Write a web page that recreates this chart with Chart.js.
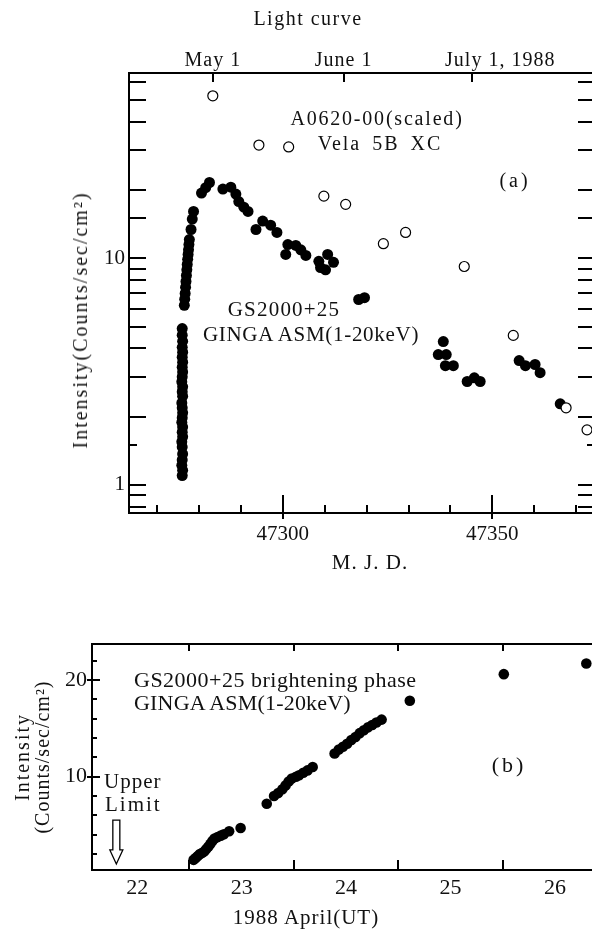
<!DOCTYPE html>
<html><head><meta charset="utf-8">
<script src="https://cdn.jsdelivr.net/npm/chart.js@4.4.0/dist/chart.umd.min.js"></script>
<style>
html,body{margin:0;padding:0;background:#fff;}
#wrap{position:relative;width:592px;height:934px;overflow:hidden;background:#fff;}
canvas{position:absolute;left:0;}
.t{position:absolute;font-family:"Liberation Serif","Times New Roman",serif;color:#111;white-space:nowrap;line-height:1;}
.c{transform:translateX(-50%);}
.rot{transform:translate(-50%,-50%) rotate(-90deg);}
</style></head><body>
<div id="wrap">
<canvas id="ca" width="620" height="580" style="top:0;width:620px;height:580px"></canvas>
<canvas id="cb" width="620" height="334" style="top:600px;width:620px;height:334px"></canvas>

<div class="t c" style="left:308px;top:8px;font-size:20px;letter-spacing:1.5px;">Light curve</div>
<div class="t c" style="left:377px;top:108px;font-size:20px;letter-spacing:1.8px;">A0620-00(scaled)</div>
<div class="t c" style="left:380px;top:133px;font-size:20px;letter-spacing:2px;word-spacing:4px;">Vela 5B XC</div>
<div class="t c" style="left:515px;top:170px;font-size:20px;letter-spacing:3px;">(a)</div>
<div class="t c" style="left:284px;top:299px;font-size:21px;letter-spacing:1.2px;">GS2000+25</div>
<div class="t c" style="left:311px;top:324px;font-size:21px;letter-spacing:0.7px;">GINGA ASM(1-20keV)</div>
<div class="t c" style="left:370px;top:552px;font-size:21px;letter-spacing:1px;">M. J. D.</div>
<div class="t rot" style="left:80px;top:320px;font-size:20px;letter-spacing:2px;">Intensity(Counts/sec/cm²)</div>

<div class="t" style="left:134px;top:669px;font-size:22px;letter-spacing:0.5px;">GS2000+25 brightening phase</div>
<div class="t" style="left:134px;top:692px;font-size:22px;letter-spacing:0.2px;">GINGA ASM(1-20keV)</div>
<div class="t c" style="left:509px;top:754px;font-size:22px;letter-spacing:3px;">(b)</div>
<div class="t" style="left:104px;top:771px;font-size:21px;letter-spacing:1px;">Upper</div>
<div class="t" style="left:105px;top:794px;font-size:21px;letter-spacing:2px;">Limit</div>
<div class="t c" style="left:306px;top:907px;font-size:21px;letter-spacing:1px;">1988 April(UT)</div>
<div class="t rot" style="left:22px;top:757px;font-size:20px;letter-spacing:2px;">Intensity</div>
<div class="t rot" style="left:42px;top:757px;font-size:20px;letter-spacing:1px;">(Counts/sec/cm²)</div>
</div>

<script>
// ===== Panel (a): light curve =====
const gingaMJD = [
 47276.0,47276.1,47275.9,47276.0,47276.1,47276.0,47275.9,47276.1,47276.0,47276.1,
 47275.9,47276.0,47276.1,47276.0,47275.9,47276.1,47276.0,47276.1,47275.9,47276.0,
 47276.1,47276.0,47276.1,47276.0,47276.1,47276.0,47276.1,47276.0,47276.0,
 47276.5,47276.6,47276.7,47276.8,47276.9,47277.0,47277.1,47277.2,47277.3,47277.4,47277.5,47277.6,47277.7,
 47278.1,47278.4,47278.7,
 47280.6,47281.6,47282.5,47285.7,47287.6,47288.8,47289.5,47290.7,47291.7,
 47293.6,47295.2,47297.1,47298.6,47300.7,47301.2,47303.1,47304.3,47305.5,
 47308.6,47309.0,47310.2,47310.7,47312.1,47318.1,47319.5,
 47337.1,47338.3,47338.8,47339.0,47340.7,47344.0,47345.7,47347.1,
 47356.4,47357.9,47360.2,47361.4,47366.2
];
const gingaFlux = [
 1.10,1.16,1.22,1.29,1.37,1.47,1.55,1.63,1.71,1.80,
 1.89,1.98,2.08,2.19,2.30,2.46,2.58,2.71,2.85,3.00,
 3.15,3.31,3.48,3.66,3.85,4.05,4.30,4.58,4.90,
 6.20,6.60,7.00,7.45,7.90,8.40,8.90,9.40,9.90,10.4,10.9,11.5,12.1,
 13.4,14.9,16.1,
 19.4,20.5,21.6,20.2,20.6,19.2,17.8,16.8,16.1,
 13.4,14.6,14.0,13.0,10.4,11.5,11.4,10.9,10.3,
 9.7,9.1,8.9,10.4,9.6,6.58,6.70,
 3.76,4.29,3.36,3.76,3.36,2.86,2.97,2.86,
 3.54,3.36,3.40,3.13,2.28
];
const velaMJD  = [47283.3,47294.3,47301.4,47309.8,47315.0,47324.0,47329.3,47343.3,47355.0,47367.6,47372.6];
const velaFlux = [52.1,31.6,31.0,18.8,17.3,11.6,13.0,9.2,4.57,2.19,1.75];
const mjdTickLabels  = [47300,47350];
const mjdMinorTicks  = [47270,47280,47290,47310,47320,47330,47340,47360,47370];
const fluxTickLabels = [1,10];
const fluxMinorTicks = [0.8,0.9,1,1.5,2,3,4,5,6,7,8,9,10,15,20,30,40,50,60];
const monthLabels = ['May 1','June 1','July 1, 1988'];
const monthAnchor = ['May 1','June 1','July 1'];
const monthMJD    = [47283.3,47314.5,47345.2];

// ===== Panel (b): brightening phase =====
const dayB = [
 22.54,22.56,22.58,22.60,22.62,22.64,22.66,22.68,22.70,22.72,22.74,22.77,22.80,22.83,22.88,22.99,
 23.24,23.31,23.35,23.39,23.42,23.45,23.48,23.52,23.55,23.59,23.63,23.68,
 23.89,23.93,23.97,24.01,24.05,24.09,24.13,24.17,24.21,24.25,24.29,24.34,
 24.61,25.51,26.30
];
const fluxB = [
 1.4,1.6,1.8,2.0,2.1,2.25,2.5,2.75,3.05,3.35,3.6,3.75,3.9,4.05,4.35,4.7,
 7.2,8.0,8.3,8.7,9.1,9.5,9.8,10.0,10.15,10.4,10.65,11.0,
 12.4,12.8,13.1,13.4,13.8,14.1,14.5,14.8,15.1,15.35,15.6,15.9,
 17.85,20.6,21.7
];
const dayTickLabels   = [22,23,24,25,26];
const dayMinorTicks   = [22.5,23.5,24.5,25.5];
const fluxBTickLabels = [10,20];
const fluxBMinorTicks = [2,4,6,8,12,14,16,18,22];
const upperLimitDay = 21.8, upperLimitTop = 5.5, upperLimitTip = 0.98;

const serif = '"Liberation Serif","Times New Roman",serif';
const ink = '#111';
function axisBase(){ return {grid:{display:true,drawOnChartArea:false,drawTicks:false}, border:{display:true,color:'#000',width:2}}; }

const ticksA = {
  id:'ticksA',
  afterDraw(chart){
    const {ctx, chartArea:{left,right,top,bottom}} = chart;
    const x = chart.scales.x, y = chart.scales.y;
    ctx.save();
    ctx.strokeStyle = '#000'; ctx.lineWidth = 2;
    ctx.beginPath();
    fluxMinorTicks.forEach(v=>{
      const py = Math.round(y.getPixelForValue(v));
      const len = v===1.5 ? 8 : 17;
      ctx.moveTo(left,py); ctx.lineTo(left+len,py);
      ctx.moveTo(right,py); ctx.lineTo(right-len,py);
    });
    mjdMinorTicks.forEach(v=>{ const px=Math.round(x.getPixelForValue(v)); ctx.moveTo(px,bottom); ctx.lineTo(px,bottom-8); });
    mjdTickLabels.forEach(v=>{ const px=Math.round(x.getPixelForValue(v)); ctx.moveTo(px,bottom+6); ctx.lineTo(px,bottom-18); });
    monthMJD.forEach(v=>{ const px=Math.round(x.getPixelForValue(v)); ctx.moveTo(px,top); ctx.lineTo(px,top+9); });
    ctx.stroke();
    ctx.fillStyle = ink; ctx.font = '20px '+serif; ctx.textBaseline='alphabetic'; ctx.textAlign='left';
    if ('letterSpacing' in ctx) ctx.letterSpacing = '1px';
    monthLabels.forEach((lab,i)=>{
      const px = x.getPixelForValue(monthMJD[i]);
      const w = ctx.measureText(monthAnchor[i]).width;
      ctx.fillText(lab, px - w/2, top-7);
    });
    ctx.restore();
  }
};

new Chart(document.getElementById('ca'), {
  type:'scatter',
  data:{datasets:[
    {label:'GS2000+25 GINGA ASM(1-20keV)', data:gingaMJD.map((v,i)=>({x:v,y:gingaFlux[i]})),
     pointRadius:5.5, pointBackgroundColor:'#000', pointBorderColor:'#000', pointBorderWidth:0, order:2},
    {label:'A0620-00(scaled) Vela 5B XC', data:velaMJD.map((v,i)=>({x:v,y:velaFlux[i]})),
     pointRadius:5, pointBackgroundColor:'#fff', pointBorderColor:'#000', pointBorderWidth:1.2, order:1}
  ]},
  options:{
    responsive:false, animation:false, devicePixelRatio:1,
    layout:{padding:0},
    plugins:{legend:{display:false}, tooltip:{enabled:false}},
    scales:{
      x:Object.assign(axisBase(),{type:'linear',position:'bottom',min:47263.3,max:47374.5,
        afterBuildTicks:s=>{s.ticks = mjdTickLabels.map(v=>({value:v}));},
        ticks:{font:{family:serif,size:21},color:ink,padding:9,maxRotation:0,autoSkip:false,callback:v=>String(v)},
        afterFit:s=>{s.height=67;s.paddingLeft=0;s.paddingRight=0;}}),
      x2:Object.assign(axisBase(),{type:'linear',position:'top',min:47263.3,max:47374.5,
        ticks:{display:false}, afterFit:s=>{s.height=73;s.paddingLeft=0;s.paddingRight=0;}}),
      y:Object.assign(axisBase(),{type:'logarithmic',position:'left',min:0.752,max:65.7,
        afterBuildTicks:s=>{s.ticks = fluxTickLabels.map(v=>({value:v}));},
        ticks:{font:{family:serif,size:21},color:ink,padding:4,autoSkip:false,callback:v=>String(v)},
        afterFit:s=>{s.width=129;s.paddingTop=0;s.paddingBottom=0;}}),
      y2:Object.assign(axisBase(),{type:'logarithmic',position:'right',min:0.752,max:65.7,
        ticks:{display:false}, afterFit:s=>{s.width=25;s.paddingTop=0;s.paddingBottom=0;}})
    }
  },
  plugins:[ticksA]
});

const ticksB = {
  id:'ticksB',
  afterDraw(chart){
    const {ctx, chartArea:{left,right,top,bottom}} = chart;
    const x = chart.scales.x, y = chart.scales.y;
    ctx.save();
    ctx.strokeStyle='#000'; ctx.lineWidth=2;
    ctx.beginPath();
    fluxBMinorTicks.forEach(v=>{ const py=Math.round(y.getPixelForValue(v)); ctx.moveTo(left,py); ctx.lineTo(left+5,py); });
    fluxBTickLabels.forEach(v=>{ const py=Math.round(y.getPixelForValue(v)); ctx.moveTo(left-5,py); ctx.lineTo(left+8,py); });
    dayMinorTicks.forEach(v=>{ const px=Math.round(x.getPixelForValue(v));
      ctx.moveTo(px,bottom); ctx.lineTo(px,bottom-10);
      ctx.moveTo(px,top); ctx.lineTo(px,top+7); });
    ctx.stroke();
    // Upper limit hollow arrow
    const ax = x.getPixelForValue(upperLimitDay);
    const y0 = y.getPixelForValue(upperLimitTop), y1 = y.getPixelForValue(upperLimitTip);
    const hs = 3.5, hh = 6.5, hl = 14;
    ctx.lineWidth=1.3;
    ctx.beginPath();
    ctx.moveTo(ax-hs,y0); ctx.lineTo(ax+hs,y0); ctx.lineTo(ax+hs,y1-hl); ctx.lineTo(ax+hh,y1-hl);
    ctx.lineTo(ax,y1); ctx.lineTo(ax-hh,y1-hl); ctx.lineTo(ax-hs,y1-hl); ctx.closePath();
    ctx.stroke();
    ctx.restore();
  }
};

new Chart(document.getElementById('cb'), {
  type:'scatter',
  data:{datasets:[
    {label:'GS2000+25 brightening phase GINGA ASM(1-20keV)', data:dayB.map((v,i)=>({x:v,y:fluxB[i]})),
     pointRadius:5.3, pointBackgroundColor:'#000', pointBorderColor:'#000', pointBorderWidth:0}
  ]},
  options:{
    responsive:false, animation:false, devicePixelRatio:1,
    layout:{padding:0},
    plugins:{legend:{display:false}, tooltip:{enabled:false}},
    scales:{
      x:Object.assign(axisBase(),{type:'linear',position:'bottom',min:21.567,max:26.431,
        afterBuildTicks:s=>{s.ticks = dayTickLabels.map(v=>({value:v}));},
        ticks:{font:{family:serif,size:22},color:ink,padding:5,maxRotation:0,autoSkip:false,callback:v=>String(v)},
        afterFit:s=>{s.height=64;s.paddingLeft=0;s.paddingRight=0;}}),
      x2:Object.assign(axisBase(),{type:'linear',position:'top',min:21.567,max:26.431,
        ticks:{display:false}, afterFit:s=>{s.height=44;s.paddingLeft=0;s.paddingRight=0;}}),
      y:Object.assign(axisBase(),{type:'linear',position:'left',min:0.35,max:23.72,
        afterBuildTicks:s=>{s.ticks = fluxBTickLabels.map(v=>({value:v}));},
        ticks:{font:{family:serif,size:22},color:ink,padding:5,autoSkip:false,callback:v=>String(v)},
        afterFit:s=>{s.width=92;s.paddingTop=0;s.paddingBottom=0;}}),
      y2:Object.assign(axisBase(),{type:'linear',position:'right',min:0.35,max:23.72,
        ticks:{display:false}, afterFit:s=>{s.width=20;s.paddingTop=0;s.paddingBottom=0;}})
    }
  },
  plugins:[ticksB]
});
</script>
</body></html>
